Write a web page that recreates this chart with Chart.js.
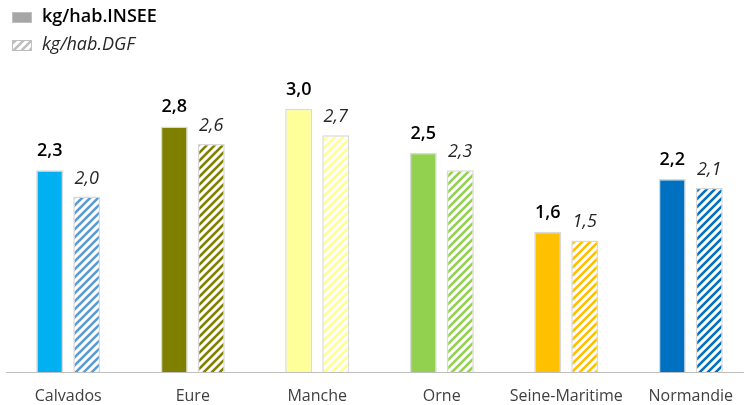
<!DOCTYPE html>
<html>
<head>
<meta charset="utf-8">
<script src="https://cdn.jsdelivr.net/npm/chart.js@4.4.1/dist/chart.umd.min.js"></script>
<style>
  html, body { margin: 0; padding: 0; background: #fff; overflow: hidden; }
  #wrap { width: 744px; height: 405px; overflow: hidden; }
</style>
</head>
<body>
<div id="wrap"><canvas id="chart" width="753" height="405"></canvas></div>
<script>
const regions = ["Calvados", "Eure", "Manche", "Orne", "Seine-Maritime", "Normandie"];
const inseeValues = [2.3, 2.8, 3.0, 2.5, 1.6, 2.2];
const dgfValues = [2.0, 2.6, 2.7, 2.3, 1.5, 2.1];
const inseeColors = ["#00b0f0", "#808000", "#ffff99", "#92d050", "#ffc000", "#0070c0"];
const dgfColors = ["#5b9bd5", "#808000", "#ffff99", "#92d050", "#ffc000", "#0070c0"];
const seriesNames = ["kg/hab.INSEE", "kg/hab.DGF"];

const FONT = "'Open Sans', Lato, sans-serif";

// diagonal hatch pattern: white background, coloured stripes "/"
function makeHatch(color) {
    const size = 8;
    const c = document.createElement("canvas");
    c.width = size;
    c.height = size;
    const g = c.getContext("2d");
    g.fillStyle = "#ffffff";
    g.fillRect(0, 0, size, size);
    g.strokeStyle = color;
    g.lineWidth = 2.6;
    g.beginPath();
    for (let k = -1; k <= 1; k++) {
        g.moveTo(k * size - 1, size + 1);
        g.lineTo(k * size + size + 1, -1);
    }
    g.stroke();
    const ctx = document.getElementById("chart").getContext("2d");
    return ctx.createPattern(c, "repeat");
}

const valueLabels = {
    id: "valueLabels",
    afterDatasetsDraw(chart) {
        const ctx = chart.ctx;
        ctx.save();
        ctx.textAlign = "center";
        ctx.textBaseline = "alphabetic";
        chart.data.datasets.forEach((ds, i) => {
            const meta = chart.getDatasetMeta(i);
            meta.data.forEach((bar, j) => {
                const txt = ds.data[j].toFixed(1).replace(".", ",");
                if (i === 0) {
                    ctx.font = "600 18px " + FONT;
                    ctx.fillStyle = "#000000";
                    ctx.fillText(txt, bar.x, bar.y - 14);
                } else {
                    ctx.font = "italic 18px " + FONT;
                    ctx.fillStyle = "#262626";
                    ctx.fillText(txt, bar.x, bar.y - 13);
                }
            });
        });
        ctx.restore();
    }
};

const sideLegend = {
    id: "sideLegend",
    afterDraw(chart) {
        const ctx = chart.ctx;
        ctx.save();
        ctx.textBaseline = "middle";
        ctx.textAlign = "left";
        // INSEE entry
        ctx.fillStyle = "#a6a6a6";
        ctx.fillRect(12, 12, 20, 11);
        ctx.strokeStyle = "#bfbfbf";
        ctx.lineWidth = 1;
        ctx.strokeRect(12.5, 12.5, 19, 10);
        ctx.font = "600 18px " + FONT;
        ctx.fillStyle = "#000000";
        ctx.fillText(seriesNames[0], 42, 17);
        // DGF entry
        ctx.fillStyle = makeHatch("#bfbfbf");
        ctx.fillRect(12, 40, 20, 11);
        ctx.strokeStyle = "#bfbfbf";
        ctx.strokeRect(12.5, 40.5, 19, 10);
        ctx.font = "italic 18px " + FONT;
        ctx.fillStyle = "#262626";
        ctx.fillText(seriesNames[1], 42, 45);
        ctx.restore();
    }
};

new Chart(document.getElementById("chart"), {
    type: "bar",
    data: {
        labels: regions,
        datasets: [
            {
                label: seriesNames[0],
                data: inseeValues,
                backgroundColor: inseeColors,
                borderColor: "#d9d9d9",
                borderWidth: 1.5,
                categoryPercentage: 0.595,
                barPercentage: 0.73
            },
            {
                label: seriesNames[1],
                data: dgfValues,
                backgroundColor: dgfColors.map(makeHatch),
                borderColor: "#d9d9d9",
                borderWidth: 1.5,
                categoryPercentage: 0.595,
                barPercentage: 0.73
            }
        ]
    },
    options: {
        responsive: false,
        animation: false,
        layout: { padding: { top: 65, left: 6, right: 0, bottom: 0 } },
        plugins: {
            legend: { display: false },
            tooltip: { enabled: false }
        },
        scales: {
            x: {
                grid: { display: false, drawTicks: false },
                border: { display: true, color: "#bfbfbf", width: 1 },
                ticks: {
                    color: "#404040",
                    font: { family: FONT, size: 16 },
                    padding: 15,
                    maxRotation: 0,
                    autoSkip: false
                },
                afterFit(scale) {
                    scale.height = 33;
                }
            },
            y: {
                display: false,
                min: 0,
                max: 3.5
            }
        }
    },
    plugins: [valueLabels, sideLegend]
});
</script>
</body>
</html>
